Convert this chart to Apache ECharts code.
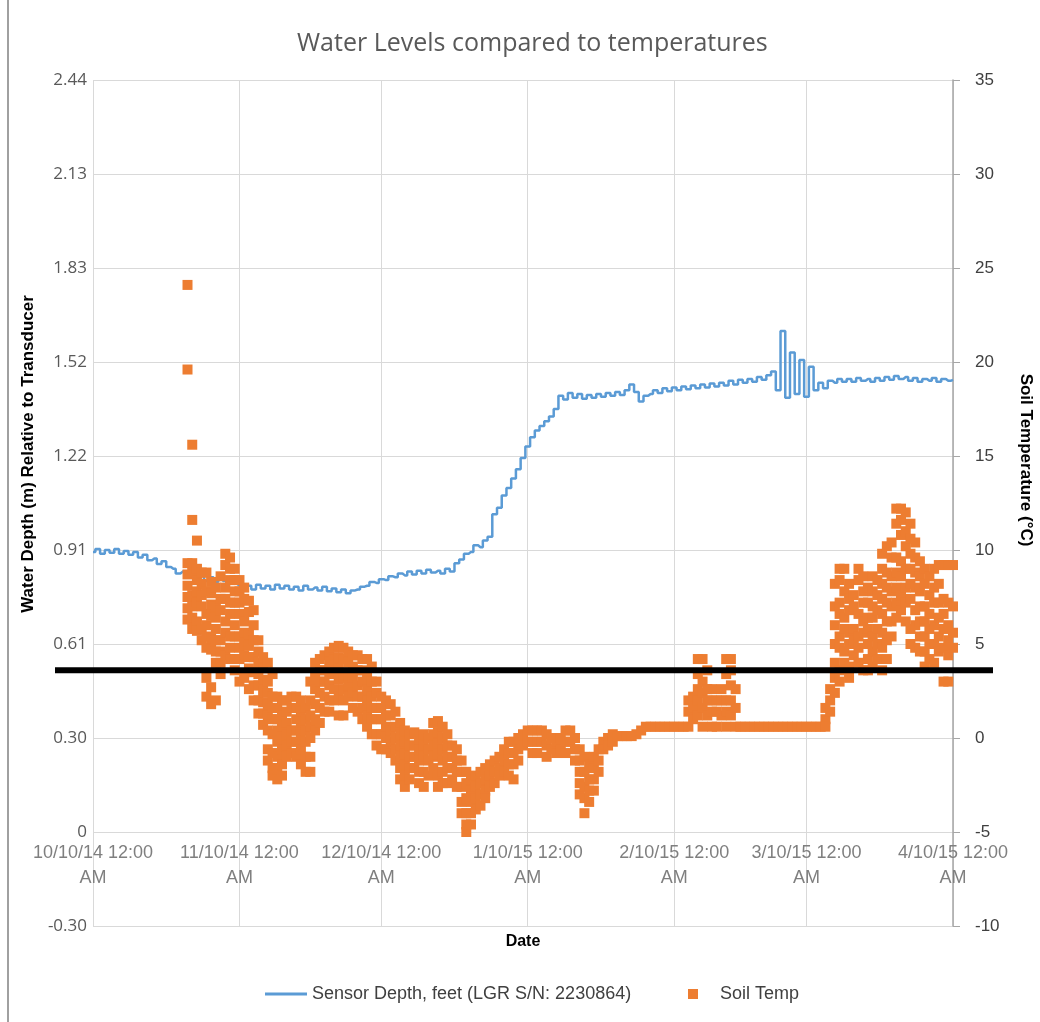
<!DOCTYPE html>
<html>
<head>
<meta charset="utf-8">
<script src="https://cdn.jsdelivr.net/npm/echarts@6/dist/echarts.min.js"></script>
<style>
  html, body { margin: 0; padding: 0; background: #fff; }
  #chart { width: 1040px; height: 1022px; }
</style>
</head>
<body>
<div id="chart"></div>
<script>
// x axis: days since 10/10/14
var monthDays = [0, 31, 61, 92, 123, 151, 182];
var dateLabels = ['10/10/14 12:00\nAM', '11/10/14 12:00\nAM', '12/10/14 12:00\nAM', '1/10/15 12:00\nAM',
                  '2/10/15 12:00\nAM', '3/10/15 12:00\nAM', '4/10/15 12:00\nAM'];
// left axis runs in feet (-1..8) but is labelled in metres
var depthTickLabels = ['-0.30', '0', '0.30', '0.61', '0.91', '1.22', '1.52', '1.83', '2.13', '2.44'];

// sensor depth (feet), one reading per day from day 0
var waterDepthFeet = [
  2.98, 3.01, 2.96, 3.00, 2.97, 3.01, 2.96, 2.99, 2.95, 2.98,
  2.92, 2.95, 2.89, 2.91, 2.85, 2.88, 2.82, 2.80, 2.75, 2.77,
  2.71, 2.73, 2.69, 2.72, 2.67, 2.71, 2.66, 2.70, 2.67, 2.69,
  2.64, 2.62, 2.59, 2.62, 2.58, 2.63, 2.59, 2.62, 2.58, 2.63,
  2.59, 2.62, 2.58, 2.61, 2.57, 2.62, 2.58, 2.60, 2.57, 2.61,
  2.56, 2.59, 2.55, 2.58, 2.54, 2.57, 2.58, 2.61, 2.62, 2.66,
  2.65, 2.69, 2.68, 2.72, 2.71, 2.75, 2.73, 2.77, 2.74, 2.78,
  2.75, 2.79, 2.76, 2.78, 2.75, 2.80, 2.77, 2.86, 2.90, 2.96,
  2.98, 3.05, 3.03, 3.10, 3.14, 3.38, 3.45, 3.58, 3.66, 3.76,
  3.86, 3.98, 4.10, 4.20, 4.27, 4.32, 4.37, 4.42, 4.50, 4.64,
  4.60, 4.67, 4.62, 4.66, 4.61, 4.65, 4.62, 4.66, 4.63, 4.67,
  4.64, 4.68, 4.65, 4.70, 4.76, 4.68, 4.58, 4.64, 4.66, 4.70,
  4.67, 4.72, 4.69, 4.73, 4.70, 4.74, 4.71, 4.75, 4.72, 4.76,
  4.73, 4.77, 4.74, 4.78, 4.75, 4.80, 4.76, 4.81, 4.78, 4.82,
  4.79, 4.84, 4.81, 4.86, 4.90, 4.70, 5.33, 4.62, 5.10, 4.66,
  5.02, 4.63, 4.95, 4.70, 4.78, 4.72, 4.80, 4.78, 4.82, 4.79,
  4.82, 4.79, 4.83, 4.80, 4.82, 4.79, 4.83, 4.80, 4.84, 4.81,
  4.85, 4.82, 4.84, 4.80, 4.83, 4.79, 4.82, 4.80, 4.83, 4.79,
  4.82, 4.80, 4.81
];

// soil temperature (°C): [day, readings on that day]
var soilTempReadings = [
  [20, [24.1, 19.6, 9.3, 8.7, 8.1, 7.5, 6.9, 6.3]],
  [21, [15.6, 11.6, 9.3, 8.8, 7.6, 7.0, 6.4, 5.8]],
  [22, [10.5, 9.0, 8.4, 7.8, 7.2, 6.2, 5.7]],
  [23, [8.8, 8.2, 7.6, 7.0, 5.8, 5.2]],
  [24, [8.8, 7.8, 6.6, 6.0, 5.4, 4.8, 3.2, 2.2]],
  [25, [8.3, 7.7, 7.1, 6.5, 5.3, 4.7, 2.7, 1.8]],
  [26, [8.0, 7.0, 6.4, 5.8, 5.2, 4.6, 4.0, 2.0]],
  [27, [8.6, 7.4, 6.8, 5.2, 4.6, 4.0, 3.4]],
  [28, [9.8, 9.2, 8.0, 7.4, 6.2, 5.6, 4.4]],
  [29, [9.6, 9.0, 8.4, 7.2, 6.6, 5.4, 4.8, 4.2]],
  [30, [9.0, 8.4, 7.8, 7.2, 6.0, 5.4, 4.2, 3.6]],
  [31, [8.4, 7.8, 7.2, 6.6, 5.4, 4.8, 4.2, 3.0]],
  [32, [8.0, 7.4, 6.2, 5.6, 5.0, 4.4, 3.2]],
  [33, [7.3, 6.7, 5.5, 4.9, 4.3, 3.7, 2.6]],
  [34, [6.8, 6.0, 5.2, 4.3, 3.5, 2.8, 2.0]],
  [35, [5.2, 4.6, 4.0, 3.4, 2.8, 2.0, 1.3]],
  [36, [4.3, 3.7, 3.1, 2.5, 1.9, 1.3, 0.7]],
  [37, [4.0, 3.0, 2.4, 1.8, 1.2, 0.4, -0.6, -1.2]],
  [38, [3.4, 2.2, 1.6, 1.0, 0.2, -0.8, -1.6, -2.0]],
  [39, [2.2, 1.6, 1.0, 0.4, -0.2, -1.0, -1.6, -2.2]],
  [40, [2.0, 1.2, 0.6, 0.0, -0.6, -1.4, -2.0]],
  [41, [2.0, 1.4, 0.8, 0.2, -0.4, -1.0]],
  [42, [2.2, 1.6, 0.4, -0.2, -0.8]],
  [43, [2.2, 1.6, 1.0, 0.4, -0.2, -1.0]],
  [44, [2.0, 1.4, 0.8, 0.2, -0.6, -1.4]],
  [45, [1.6, 1.0, 0.4, -0.2, -1.0, -1.8]],
  [46, [3.0, 2.0, 1.2, 0.6, 0.0, -1.0, -1.8]],
  [47, [4.0, 3.4, 2.6, 1.8, 1.0, 0.4]],
  [48, [4.2, 3.6, 3.0, 2.4, 1.6, 0.8]],
  [49, [4.4, 3.6, 3.0, 2.2, 1.4]],
  [50, [4.6, 4.0, 3.4, 2.8, 2.0, 1.4]],
  [51, [4.8, 4.2, 3.6, 2.6, 2.0]],
  [52, [4.9, 4.3, 3.7, 3.1, 2.2, 1.2]],
  [53, [4.8, 4.2, 3.2, 2.6, 2.0, 1.2]],
  [54, [4.6, 4.0, 3.4, 2.8, 2.2]],
  [55, [4.4, 3.8, 3.2, 2.4, 1.6]],
  [56, [4.4, 3.6, 2.8, 2.2, 1.4]],
  [57, [4.2, 3.6, 3.0, 2.2, 1.6, 1.0]],
  [58, [4.2, 3.4, 2.6, 2.0, 1.2, 0.6]],
  [59, [3.8, 3.0, 2.2, 1.6, 1.0, 0.2]],
  [60, [3.0, 2.4, 1.6, 1.0, 0.2, -0.4]],
  [61, [2.2, 1.6, 1.0, 0.2, -0.6]],
  [62, [2.0, 1.2, 0.6, 0.0, -0.6]],
  [63, [1.8, 1.2, 0.4, -0.2, -0.8]],
  [64, [1.4, 0.6, 0.0, -0.6, -1.2]],
  [65, [0.8, 0.2, -0.4, -1.0, -1.6, -2.2]],
  [66, [0.4, -0.2, -0.8, -1.4, -2.0, -2.6]],
  [67, [0.2, -0.4, -1.0, -1.6, -2.2]],
  [68, [0.3, -0.4, -1.0, -1.6]],
  [69, [0.0, -0.6, -1.2, -1.8, -2.4]],
  [70, [0.2, -0.4, -1.0, -1.8, -2.6]],
  [71, [0.0, -0.6, -1.2, -2.0]],
  [72, [0.8, 0.2, -0.4, -1.0, -1.6]],
  [73, [0.9, 0.3, -0.3, -0.9, -2.0, -2.6]],
  [74, [0.6, 0.0, -0.6, -1.2, -1.8, -2.4]],
  [75, [0.2, -0.4, -1.0, -1.6, -2.4]],
  [76, [-0.4, -1.0, -1.6, -2.2]],
  [77, [-0.6, -1.2, -1.8, -2.6]],
  [78, [-1.2, -1.8, -2.6, -3.4, -4.0]],
  [79, [-1.8, -2.4, -3.2, -4.0, -4.6, -5.0]],
  [80, [-2.2, -2.8, -3.4, -4.0, -4.6]],
  [81, [-2.0, -2.6, -3.2, -3.8]],
  [82, [-1.8, -2.4, -3.0, -3.6]],
  [83, [-1.6, -2.2, -2.8, -3.2]],
  [84, [-1.4, -2.0, -2.6]],
  [85, [-1.2, -1.8, -2.4]],
  [86, [-1.0, -1.6, -2.0]],
  [87, [-0.6, -1.2, -1.8]],
  [88, [-0.2, -0.8, -1.4, -2.0]],
  [89, [-0.2, -0.8, -1.4, -2.2]],
  [90, [0.0, -0.6, -1.2]],
  [91, [0.2, -0.4]],
  [92, [0.4, -0.2]],
  [93, [0.4, -0.2, -0.8]],
  [94, [0.4, -0.2, -0.8]],
  [95, [0.4, -0.2]],
  [96, [0.2, -0.4, -1.0]],
  [97, [0.0, -0.6]],
  [98, [-0.2, -0.8]],
  [99, [0.0, -0.6]],
  [100, [0.4, -0.2, -0.8]],
  [101, [0.4, -0.2]],
  [102, [0.0, -0.6, -1.2]],
  [103, [-0.6, -1.2, -1.8, -2.4, -3.0]],
  [104, [-1.0, -1.8, -2.6, -3.2, -4.0]],
  [105, [-1.4, -2.2, -2.8, -3.4]],
  [106, [-1.0, -1.6, -2.2, -2.8]],
  [107, [-0.6, -1.2, -1.8]],
  [108, [-0.2, -0.6]],
  [109, [0.0, -0.4]],
  [110, [0.2, -0.2]],
  [111, [0.1]], [112, [0.1]], [113, [0.1]], [114, [0.1]], [115, [0.2]],
  [116, [0.4]], [117, [0.6]], [118, [0.6]], [119, [0.6]], [120, [0.6]],
  [121, [0.6]], [122, [0.6]], [123, [0.6]], [124, [0.6]], [125, [0.6]],
  [126, [2.0, 1.4, 0.6]],
  [127, [2.2, 1.6, 1.0]],
  [128, [4.2, 3.4, 2.6, 2.0, 1.2]],
  [129, [4.2, 3.0, 2.4, 1.6, 0.6]],
  [130, [3.6, 2.6, 2.0, 1.2]],
  [131, [2.6, 2.0, 1.4, 0.6]],
  [132, [2.0, 1.4, 0.6]],
  [133, [2.6, 2.0, 1.2]],
  [134, [4.2, 3.4, 2.0, 1.4, 0.6]],
  [135, [4.2, 3.6, 2.8, 2.0, 1.2]],
  [136, [2.6, 1.6, 0.6]],
  [137, [0.6]], [138, [0.6]], [139, [0.6]], [140, [0.6]], [141, [0.6]], [142, [0.6]],
  [143, [0.6]], [144, [0.6]], [145, [0.6]], [146, [0.6]], [147, [0.6]], [148, [0.6]],
  [149, [0.6]], [150, [0.6]], [151, [0.6]], [152, [0.6]], [153, [0.6]], [154, [0.6]],
  [155, [1.6, 1.0, 0.6]],
  [156, [2.6, 2.0, 1.4]],
  [157, [8.2, 7.0, 6.0, 5.0, 4.0, 3.2, 2.4]],
  [158, [9.0, 8.4, 7.2, 6.6, 5.4, 4.8, 3.6, 3.0]],
  [159, [9.0, 7.8, 6.4, 5.8, 4.6, 4.0]],
  [160, [8.2, 7.4, 6.8, 5.6, 5.0, 3.8, 3.2]],
  [161, [7.6, 7.0, 5.8, 5.2, 4.4]],
  [162, [9.0, 8.4, 6.6, 5.4, 4.8, 4.0]],
  [163, [8.6, 7.8, 7.2, 6.2, 5.6, 3.6]],
  [164, [8.0, 7.2, 6.4, 5.8, 5.0, 4.2, 3.6]],
  [165, [8.6, 7.8, 7.0, 6.4, 5.4, 4.6, 3.8]],
  [166, [8.4, 7.6, 6.8, 5.8, 5.0, 4.2]],
  [167, [9.8, 9.0, 8.2, 7.4, 6.6, 5.6, 4.8, 3.6]],
  [168, [10.2, 8.8, 8.0, 7.2, 6.2, 5.2, 4.2]],
  [169, [10.4, 9.6, 8.6, 7.8, 7.0, 6.2, 5.4]],
  [170, [12.2, 11.4, 9.6, 8.8, 8.0, 7.2, 6.4]],
  [171, [12.2, 11.6, 10.8, 9.4, 8.6, 7.6, 6.8]],
  [172, [12.0, 11.0, 10.2, 9.0, 8.0, 7.2, 6.2]],
  [173, [11.4, 10.6, 9.8, 9.0, 8.2, 7.4, 5.8, 5.0]],
  [174, [10.4, 9.6, 8.8, 8.0, 6.8, 6.0, 4.8]],
  [175, [9.4, 8.6, 7.8, 7.0, 6.2, 5.4, 4.6]],
  [176, [9.0, 8.2, 7.0, 6.2, 5.4, 4.6, 3.8]],
  [177, [8.6, 7.6, 6.6, 5.8, 5.0, 4.2]],
  [178, [9.0, 8.0, 7.2, 6.0, 5.0, 4.0]],
  [179, [9.2, 8.2, 7.2, 6.4, 5.4, 4.6]],
  [180, [9.2, 7.4, 6.6, 5.8, 4.8, 3.0]],
  [181, [9.2, 7.2, 6.0, 5.2, 4.4, 3.0]],
  [182, [9.2, 7.0, 5.6, 4.8]]
];

var freezeLineTemp = 3.6;   // hand-drawn black reference line, read on the right axis

var depthName = 'Sensor Depth, feet (LGR S/N: 2230864)';
var tempName = 'Soil Temp';

var depthData = waterDepthFeet.map(function (v, i) { return [i, v]; });
var tempData = [];
soilTempReadings.forEach(function (row) {
  row[1].forEach(function (t) { tempData.push([row[0], t]); });
});

var chart = echarts.init(document.getElementById('chart'), null, { renderer: 'canvas' });

var option = {
  animation: false,
  backgroundColor: '#ffffff',
  title: {
    text: 'Water Levels compared to temperatures',
    left: 292,
    top: 26,
    textStyle: { fontFamily: 'Open Sans', fontSize: 25, fontWeight: 'normal', color: '#595959' }
  },
  grid: { left: 93, right: 87, top: 80, bottom: 96, outerBoundsMode: 'none', containLabel: false },
  legend: [{
    data: [{ name: depthName, icon: 'rect' }],
    left: 265, top: 985, padding: 0,
    itemWidth: 42, itemHeight: 3,
    textStyle: { fontFamily: 'Liberation Sans', fontSize: 18, color: '#404040' }
  }, {
    data: [{ name: tempName, icon: 'rect' }],
    left: 688, top: 985, padding: 0,
    itemWidth: 10, itemHeight: 10,
    textStyle: { fontFamily: 'Liberation Sans', fontSize: 18, color: '#404040', padding: [0, 0, 0, 17] }
  }],
  xAxis: {
    type: 'value',
    min: 0, max: 182,
    // axis sits on the zero line of the left axis (one step of 9 above the bottom)
    offset: -94,
    name: 'Date',
    nameLocation: 'middle',
    nameGap: 102,
    nameTextStyle: { fontFamily: 'Liberation Sans', fontSize: 16, fontWeight: 'bold', color: '#000' },
    axisLine: { show: false, onZero: false },
    axisTick: { show: false, customValues: monthDays },
    axisLabel: {
      customValues: monthDays,
      margin: 9,
      fontFamily: 'Liberation Sans', fontSize: 18, lineHeight: 25, color: '#7f7f7f',
      formatter: function (v) { return dateLabels[monthDays.indexOf(v)]; }
    },
    splitLine: { show: true, lineStyle: { color: '#d9d9d9', width: 1 } }
  },
  yAxis: [{
    type: 'value',
    min: -1, max: 8, interval: 1,
    position: 'left',
    name: 'Water Depth (m) Relative to Transducer',
    nameLocation: 'middle',
    nameGap: 52,
    nameTextStyle: { fontFamily: 'Liberation Sans', fontSize: 17, fontWeight: 'bold', color: '#000', padding: [0, 0, 0, 98] },
    axisLine: { show: false },
    axisTick: { show: false },
    axisLabel: {
      margin: 6,
      fontFamily: 'Open Sans', fontSize: 17, color: '#595959',
      formatter: function (v) { return depthTickLabels[v + 1]; }
    },
    splitLine: { show: true, lineStyle: { color: '#d9d9d9', width: 1 } }
  }, {
    type: 'value',
    min: -10, max: 35, interval: 5,
    position: 'right',
    name: 'Soil Temperature (°C)',
    nameLocation: 'middle',
    nameRotate: -90,
    nameGap: 64,
    nameTextStyle: { fontFamily: 'Liberation Sans', fontSize: 17, fontWeight: 'bold', color: '#000', padding: [0, 86, 0, 0] },
    axisLine: { show: true, lineStyle: { color: '#a6a6a6', width: 1.5 } },
    axisTick: { show: true, length: 7, lineStyle: { color: '#a6a6a6' } },
    axisLabel: { margin: 22, fontFamily: 'Liberation Sans', fontSize: 17, color: '#404040' },
    splitLine: { show: false }
  }],
  series: [{
    name: depthName,
    type: 'line',
    yAxisIndex: 0,
    data: depthData,
    step: 'middle',
    symbol: 'none',
    lineStyle: { color: '#5b9bd5', width: 2.5 },
    itemStyle: { color: '#5b9bd5' },
    z: 2
  }, {
    name: tempName,
    type: 'scatter',
    yAxisIndex: 1,
    data: tempData,
    symbol: 'rect',
    symbolSize: 10,
    itemStyle: { color: '#ed7d31', opacity: 1 },
    z: 3
  }]
};

chart.setOption(option);

// border on the left edge and the black reference line across the plot
var lineY = chart.convertToPixel({ yAxisIndex: 1 }, freezeLineTemp);
chart.setOption({
  graphic: [{
    id: 'frame',
    type: 'line',
    shape: { x1: 8, y1: 0, x2: 8, y2: 1022 },
    style: { stroke: '#a0a0a0', lineWidth: 2 }
  }, {
    id: 'refLine',
    type: 'line',
    shape: { x1: 55, y1: lineY, x2: 993, y2: lineY },
    style: { stroke: '#000000', lineWidth: 6 },
    z: 100
  }]
});

window.addEventListener('resize', chart.resize);
</script>
</body>
</html>
